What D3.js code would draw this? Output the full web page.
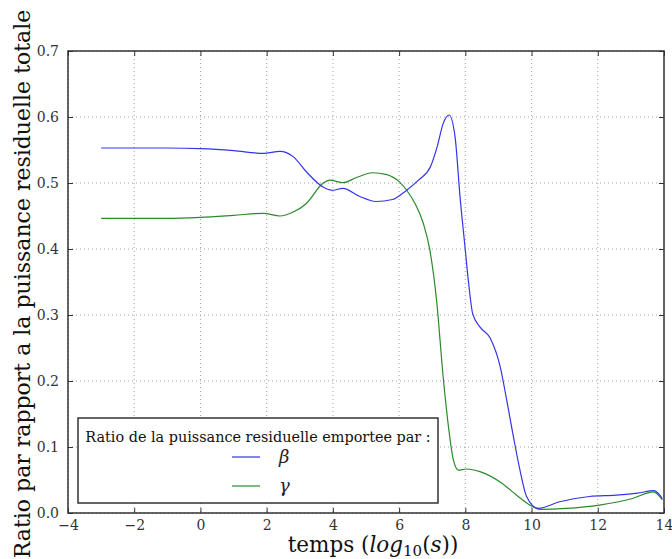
<!DOCTYPE html>
<html>
<head>
<meta charset="utf-8">
<script src="https://cdn.jsdelivr.net/npm/d3@7"></script>
<style>
  body { margin: 0; background: #fff; }
</style>
</head>
<body>
<div id="chart"></div>
<script>
// Beta curve (time in log10(s), ratio)
const betaT = [-3, -1, 0, 1, 1.9, 2.4, 2.8, 3.2, 3.7, 4.0, 4.3, 4.8, 5.3, 5.8, 6.2, 6.6, 6.95, 7.15, 7.33, 7.51, 7.69, 7.84, 7.99, 8.1, 8.22, 8.44, 8.75, 9.05, 9.25, 9.45, 9.65, 9.85, 10.2, 10.85, 11.75, 12.55, 13.2, 13.7, 13.95];
const betaV = [0.553, 0.553, 0.552, 0.549, 0.545, 0.548, 0.540, 0.517, 0.494, 0.489, 0.492, 0.480, 0.472, 0.475, 0.488, 0.505, 0.525, 0.555, 0.590, 0.603, 0.570, 0.479, 0.403, 0.348, 0.3025, 0.282, 0.265, 0.222, 0.171, 0.116, 0.065, 0.025, 0.007, 0.017, 0.025, 0.027, 0.030, 0.034, 0.022];

// Gamma curve
const gammaT = [-3, -1, 0, 1, 1.9, 2.4, 2.8, 3.2, 3.7, 3.9, 4.3, 4.7, 5.2, 5.6, 6.0, 6.23, 6.5, 6.73, 6.93, 7.13, 7.33, 7.49, 7.64, 7.79, 8.04, 8.44, 9.05, 9.55, 9.95, 10.25, 11.05, 12.05, 13.05, 13.68, 13.95];
const gammaV = [0.4465, 0.4465, 0.448, 0.451, 0.454, 0.450, 0.456, 0.469, 0.4995, 0.5045, 0.5005, 0.508, 0.5155, 0.513, 0.502, 0.489, 0.467, 0.439, 0.398, 0.323, 0.2065, 0.131, 0.080, 0.065, 0.0667, 0.0626, 0.047, 0.027, 0.012, 0.0056, 0.007, 0.012, 0.022, 0.032, 0.020];

const xTicks = [-4, -2, 0, 2, 4, 6, 8, 10, 12, 14];
const yTicks = [0, 0.1, 0.2, 0.3, 0.4, 0.5, 0.6, 0.7];

const serif = "'DejaVu Serif', 'Liberation Serif', serif";

const width = 672, height = 559;
const margin = { left: 68, top: 51, right: 8, bottom: 46 };
const x0 = margin.left, x1 = width - margin.right;
const y0 = margin.top, y1 = height - margin.bottom;

const svg = d3.select("#chart").append("svg")
    .attr("width", width)
    .attr("height", height)
    .attr("font-family", serif);

const x = d3.scaleLinear().domain([-4, 14]).range([x0, x1]);
const y = d3.scaleLinear().domain([0, 0.7]).range([y1, y0]);

// Grid (dotted)
svg.append("g").selectAll("line")
    .data(xTicks)
    .enter().append("line")
    .attr("x1", d => x(d)).attr("x2", d => x(d))
    .attr("y1", y0).attr("y2", y1)
    .attr("stroke", "#888").attr("stroke-width", 0.8)
    .attr("stroke-dasharray", "1,3");

svg.append("g").selectAll("line")
    .data(yTicks)
    .enter().append("line")
    .attr("x1", x0).attr("x2", x1)
    .attr("y1", d => y(d)).attr("y2", d => y(d))
    .attr("stroke", "#888").attr("stroke-width", 0.8)
    .attr("stroke-dasharray", "1,3");

// Curves
const line = d3.line()
    .x(d => x(d[0]))
    .y(d => y(d[1]))
    .curve(d3.curveMonotoneX);

const betaData = betaT.map((t, i) => [t, betaV[i]]);
const gammaData = gammaT.map((t, i) => [t, gammaV[i]]);

svg.append("path")
    .datum(gammaData)
    .attr("d", line)
    .attr("fill", "none")
    .attr("stroke", "#2a8a2a")
    .attr("stroke-width", 1.2);

svg.append("path")
    .datum(betaData)
    .attr("d", line)
    .attr("fill", "none")
    .attr("stroke", "#3535e8")
    .attr("stroke-width", 1.2);

// Axes (ticks inward, on all four sides)
const tickSize = 5;
const fmtX = d => d < 0 ? "\u2212" + Math.abs(d) : String(d);

svg.append("g")
    .attr("transform", `translate(0,${y1})`)
    .call(d3.axisBottom(x).tickValues(xTicks).tickSize(-tickSize).tickPadding(7).tickFormat(fmtX))
    .call(g => g.select(".domain").remove());

svg.append("g")
    .attr("transform", `translate(0,${y0})`)
    .call(d3.axisTop(x).tickValues(xTicks).tickSize(-tickSize).tickFormat(""))
    .call(g => g.select(".domain").remove());

svg.append("g")
    .attr("transform", `translate(${x0},0)`)
    .call(d3.axisLeft(y).tickValues(yTicks).tickSize(-tickSize).tickPadding(9).tickFormat(d3.format(".1f")))
    .call(g => g.select(".domain").remove());

svg.append("g")
    .attr("transform", `translate(${x1},0)`)
    .call(d3.axisRight(y).tickValues(yTicks).tickSize(-tickSize).tickFormat(""))
    .call(g => g.select(".domain").remove());

svg.selectAll(".tick line").attr("stroke", "#333").attr("stroke-width", 1);
svg.selectAll(".tick text")
    .attr("fill", "#333")
    .attr("font-family", serif)
    .attr("font-size", 14);

// Frame
svg.append("rect")
    .attr("x", x0).attr("y", y0)
    .attr("width", x1 - x0).attr("height", y1 - y0)
    .attr("fill", "none")
    .attr("stroke", "#333")
    .attr("stroke-width", 1.5);

// Axis labels
const xl = svg.append("text")
    .attr("x", (x0 + x1) / 2 + 7)
    .attr("y", 552)
    .attr("text-anchor", "middle")
    .attr("font-family", serif)
    .attr("font-size", 21.5)
    .attr("fill", "#111");
xl.append("tspan").text("temps (");
xl.append("tspan").attr("font-style", "italic").text("log");
xl.append("tspan").attr("dy", 4).attr("font-size", 15).text("10");
xl.append("tspan").attr("dy", -4).text("(");
xl.append("tspan").attr("font-style", "italic").text("s");
xl.append("tspan").text("))");

svg.append("text")
    .attr("transform", `translate(30,${(y0 + y1) / 2 + 2}) rotate(-90)`)
    .attr("text-anchor", "middle")
    .attr("font-family", serif)
    .attr("font-size", 22)
    .attr("fill", "#111")
    .text("Ratio par rapport a la puissance residuelle totale");

// Legend
const legend = svg.append("g");
legend.append("rect")
    .attr("x", 78).attr("y", 418)
    .attr("width", 360).attr("height", 85)
    .attr("fill", "#fff")
    .attr("stroke", "#333")
    .attr("stroke-width", 1.5);

legend.append("text")
    .attr("x", 258).attr("y", 442)
    .attr("text-anchor", "middle")
    .attr("font-family", serif)
    .attr("font-size", 14.4)
    .attr("fill", "#111")
    .text("Ratio de la puissance residuelle emportee par :");

const legendItems = [
    { label: "\u03b2", color: "#3535e8" },
    { label: "\u03b3", color: "#2a8a2a" }
];

legendItems.forEach((item, i) => {
    const ly = 457 + i * 29;
    legend.append("line")
        .attr("x1", 232).attr("x2", 260)
        .attr("y1", ly).attr("y2", ly)
        .attr("stroke", item.color)
        .attr("stroke-width", 1.2);
    legend.append("text")
        .attr("x", 279).attr("y", ly + 6)
        .attr("font-family", serif)
        .attr("font-size", 18)
        .attr("font-style", "italic")
        .attr("fill", "#222")
        .text(item.label);
});
</script>
</body>
</html>
